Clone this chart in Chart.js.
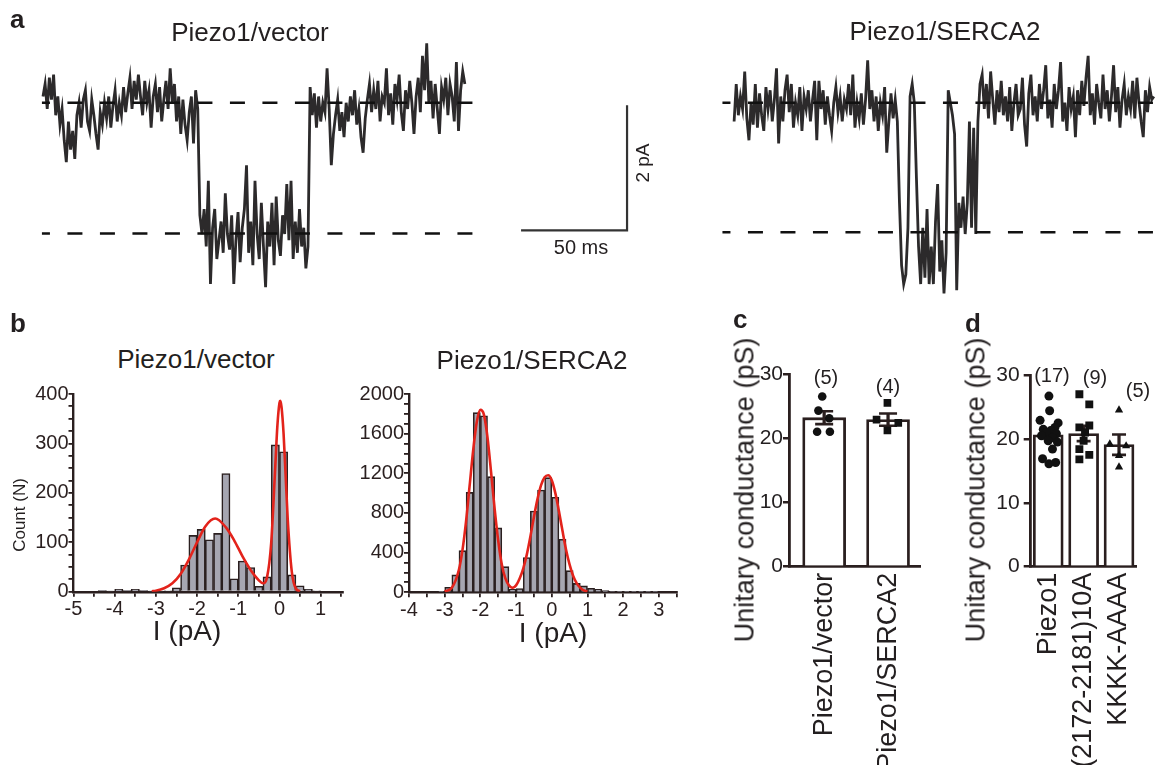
<!DOCTYPE html>
<html>
<head>
<meta charset="utf-8">
<title>Piezo1 single-channel recordings</title>
<script src="https://cdn.jsdelivr.net/npm/chart.js@4.4.1/dist/chart.umd.min.js"></script>
<style>
  body { margin: 0; background: #fff; }
  #fig { position: relative; width: 1159px; height: 765px; overflow: hidden;
         font-family: 'Liberation Sans', Arial, Helvetica, sans-serif; color: #231f20; }
  canvas { position: absolute; }
  .t { position: absolute; white-space: nowrap; line-height: 1; transform: translate(-50%, -50%); }
  .rot { transform: translate(-50%, -50%) rotate(-90deg); }
  .lt { position: absolute; font-weight: bold; font-size: 26px; line-height: 1; }
</style>
</head>
<body>
<div id="fig">
  <canvas id="cvA" width="1159" height="310" style="left:0;top:0"></canvas>
  <canvas id="cvB1" width="350" height="260" style="left:0;top:380px"></canvas>
  <canvas id="cvB2" width="340" height="260" style="left:345px;top:380px"></canvas>
  <canvas id="cvC" width="220" height="435" style="left:720px;top:330px"></canvas>
  <canvas id="cvD" width="209" height="435" style="left:950px;top:330px"></canvas>

  <div class="lt" style="left:10px;top:6px">a</div>
  <div class="lt" style="left:10px;top:310px">b</div>
  <div class="lt" style="left:733px;top:306px">c</div>
  <div class="lt" style="left:965px;top:310px">d</div>

  <div class="t" style="left:250px;top:32px;font-size:26px">Piezo1/vector</div>
  <div class="t" style="left:945px;top:31px;font-size:26px">Piezo1/SERCA2</div>
  <div class="t rot" style="left:642px;top:163px;font-size:19px">2 pA</div>
  <div class="t" style="left:581px;top:247px;font-size:20px">50 ms</div>

  <div class="t" style="left:196px;top:359px;font-size:26px">Piezo1/vector</div>
  <div class="t" style="left:532px;top:360px;font-size:26px">Piezo1/SERCA2</div>
  <div class="t rot" style="left:19px;top:515px;font-size:17px">Count (N)</div>
  <div class="t" style="left:187px;top:631px;font-size:28px">I (pA)</div>
  <div class="t" style="left:553px;top:633px;font-size:28px">I (pA)</div>

  <div class="t rot" style="left:745px;top:490px;font-size:27px">Unitary conductance (pS)</div>
  <div class="t rot" style="left:976px;top:490px;font-size:27px">Unitary conductance (pS)</div>
  <div class="t" style="left:826px;top:377px;font-size:20px">(5)</div>
  <div class="t" style="left:888px;top:386px;font-size:20px">(4)</div>
  <div class="t" style="left:1052px;top:375px;font-size:20px">(17)</div>
  <div class="t" style="left:1095px;top:377px;font-size:20px">(9)</div>
  <div class="t" style="left:1138px;top:390px;font-size:20px">(5)</div>
</div>

<script>
// ---- a: current traces (pA), one sample per ms ----
const sampleMs = 1;
const vectorStart = 0;
const vectorTrace = [
  0.1, 0.3, -0.1, 0.4, 0.05, 0.45, -0.2, 0.1, -0.35, -0.1,
  -0.6, -0.95, -0.3, -0.75, -0.45, -0.9, -0.2, 0.0, -0.4, 0.05,
  0.2, -0.3, -0.45, 0.05, -0.2, -0.5, -0.75, -0.15, -0.35, 0.0,
  -0.25, 0.1, -0.4, -0.05, 0.2, -0.3, 0.0, -0.2, 0.25, -0.15,
  0.15, 0.4, -0.1, 0.35, 0.05, 0.45, 0.1, -0.2, 0.35, 0.0,
  0.2, -0.4, 0.1, 0.3, -0.15, 0.25, -0.3, 0.05, 0.35, -0.1,
  0.55, 0.0, 0.3, -0.3, 0.1, -0.5, 0.05, -0.35, -0.6, -0.15,
  0.1, -0.65, 0.2, -0.1,
  -1.8,
  -2.1, -1.7, -2.3, -1.25, -2.9, -2.0, -1.7, -2.5, -2.2, -1.9,
  -2.4, -1.45, -2.1, -2.35, -1.8, -2.9, -2.2, -1.75, -2.55, -2.0,
  -1.7, -1.0, -2.4, -1.9, -2.6, -1.25, -2.1, -2.5, -1.6, -2.3,
  -2.95, -1.9, -2.3, -1.6, -2.6, -1.5, -2.2, -2.45, -1.8, -2.1,
  -1.3, -2.2, -1.25, -2.5, -1.9, -2.4, -1.7, -2.3, -2.0, -2.65,
  -2.3,
  0.25, -0.2, 0.15, -0.4, 0.1, -0.3, 0.0, -0.15, 0.55, -0.1,
  -1.0, -0.5, -0.2, 0.05, -0.45, -0.15, -0.55, 0.0, -0.3, 0.1,
  -0.2, 0.2, -0.35, -0.1, -0.55, -0.8, -0.25, 0.05, 0.3, -0.15,
  0.2, -0.1, 0.35, -0.3, 0.1, 0.0, 0.55, -0.2, 0.15, -0.35,
  0.3, 0.05, 0.45, -0.15, -0.45, 0.2, -0.1, 0.35, 0.0, -0.5,
  0.1, 0.4, -0.15, 0.75, 0.2, 0.95, 0.0, 0.35, -0.25, 0.3,
  -0.1, -0.5, 0.25, 0.05, 0.4, -0.2, 0.3, 0.1, -0.3, 0.65,
  -0.45, 0.2, 0.5, 0.3
];
const sercaStart = 326;
const sercaTrace = [
  -0.3, 0.3, -0.2, 0.1, -0.1, 0.5, -0.25, -0.6, 0.0, -0.35,
  0.3, -0.4, 0.15, -0.2, -0.45, 0.25, -0.1, 0.2, -0.3, 0.05,
  0.55, -0.65, 0.1, -0.3, 0.2, 0.45, -0.15, 0.3, -0.4, 0.0,
  -0.2, 0.25, -0.45, 0.1, -0.1, 0.2, -0.3, 0.05, 0.35, -0.6,
  0.35, -0.1, 0.2, -0.35, 0.1, -0.2, -0.45, 0.0, 0.25, -0.15,
  0.1, -0.3, 0.05, -0.1, 0.3, -0.2, 0.45, -0.4, 0.0, -0.25,
  0.15, -0.35, 0.05, 0.68, -0.1, 0.2, -0.3, 0.1, -0.45, 0.0,
  -0.2, 0.25, -0.8, -0.3, 0.15, -0.25, 0.05,
  -0.3, -1.6, -2.6, -2.9, -2.75, -2.0, 0.1, 0.3, 0.0, -1.2,
  -2.3, -2.9, -2.0, -2.8, -1.7, -2.9, -2.3, -2.9, -1.9, -1.3,
  -2.7, -2.2, -3.05, -2.4, 0.2, 0.0, -0.2, -0.5, -3.0, -1.6,
  -2.0, -1.5, -2.1, -1.6, -0.3, -2.0, -0.4, -2.1, -0.3, 0.3,
  0.45, -0.1, 0.3, -0.25, 0.5, 0.05, -0.35, 0.2, -0.15, 0.35,
  -0.2, 0.1, -0.3, 0.25, -0.45, 0.0, 0.3, -0.2, -0.1, 0.4,
  -0.35, -0.7, 0.15, 0.45, -0.2, 0.1, -0.3, 0.3, -0.1, 0.2,
  0.6, -0.25, 0.05, -0.4, 0.3, -0.1, 0.2, 0.65, -0.3, 0.0,
  -0.45, 0.25, -0.1, 0.1, -0.55, 0.2, -0.2, 0.35, -0.05, 0.4,
  0.75, -0.2, 0.15, -0.35, 0.3, 0.0, -0.25, 0.45, -0.1, 0.2,
  -0.3, 0.1, 0.6, -0.15, 0.25, -0.4, 0.05, 0.3, -0.2, 0.1,
  -0.1, 0.35, -0.25, 0.4, 0.0, -0.3, -0.55, 0.2, -0.15, 0.25,
  0.05, 0.1
];
const closedLevel = [0, 0];          // vector, SERCA2
const openLevel = [-2.09, -2.07];
const scaleBarMs = 50;
const scaleBarPA = 2;

// ---- b: all-point histograms ----
const vecBins = [-4.5, -4.3, -4.1, -3.9, -3.7, -3.5, -3.3, -3.1, -2.9, -2.7,
  -2.5, -2.3, -2.1, -1.9, -1.7, -1.5, -1.3, -1.1, -0.9, -0.7,
  -0.5, -0.3, -0.1, 0.1, 0.3, 0.5, 0.7, 0.9];
const vecCounts = [0, 3, 1, 5, 3, 5, 3, 1, 1, 2,
  8, 54, 114, 126, 105, 118, 239, 26, 62, 49,
  11, 30, 297, 283, 34, 12, 5, 2];
const vecFitX = [-3.1, -3.0, -2.8, -2.6, -2.4, -2.2, -2.0, -1.8, -1.56, -1.3, -1.1, -0.9, -0.7, -0.5,
  -0.4, -0.3, -0.2, -0.1, -0.05, 0.0, 0.02, 0.05, 0.1, 0.15, 0.2, 0.3, 0.4, 0.5];
const vecFitY = [1, 2, 7, 17, 36, 65, 100, 132, 148, 130, 104, 72, 44, 23,
  17, 30, 99, 256, 336, 382, 386, 374, 320, 235, 148, 40, 6, 1];
const vecXTicks = [-5, -4, -3, -2, -1, 0, 1];
const vecYTicks = [0, 100, 200, 300, 400];

const sercaBins = [-3.1, -2.9, -2.7, -2.5, -2.3, -2.1, -1.9, -1.7, -1.5, -1.3,
  -1.1, -0.9, -0.7, -0.5, -0.3, -0.1, 0.1, 0.3, 0.5, 0.7,
  0.9, 1.1, 1.3, 1.5, 1.7, 1.9, 2.1, 2.3, 2.5, 2.7, 2.9];
const sercaCounts = [5, 50, 175, 420, 1008, 1812, 1781, 1166, 649, 259,
  30, 37, 350, 820, 1032, 1156, 958, 534, 218, 90,
  64, 40, 30, 17, 10, 6, 4, 3, 2, 1, 1];
const sercaFitX = [-3.0, -2.8, -2.6, -2.5, -2.4, -2.3, -2.2, -2.1, -2.0, -1.9, -1.8, -1.7, -1.6,
  -1.5, -1.4, -1.3, -1.2, -1.1, -1.0, -0.9, -0.8, -0.7, -0.6, -0.5, -0.4, -0.3, -0.2, -0.1,
  0.0, 0.1, 0.2, 0.3, 0.4, 0.5, 0.6, 0.7, 0.8, 0.9, 1.0];
const sercaFitY = [8, 45, 230, 430, 720, 1080, 1440, 1720, 1840, 1790, 1560, 1210, 840,
  520, 280, 140, 70, 45, 70, 140, 240, 380, 560, 760, 940, 1080, 1160, 1180,
  1130, 1000, 820, 620, 430, 280, 165, 90, 45, 20, 8];
const sercaXTicks = [-4, -3, -2, -1, 0, 1, 2, 3];
const sercaYTicks = [0, 400, 800, 1200, 1600, 2000];

// ---- c, d: unitary conductance (pS) ----
const condTicks = [0, 10, 20, 30];
const cLabels = ['Piezo1/vector', 'Piezo1/SERCA2'];
const cMeans = [23.2, 22.9];
const cSem = [1.0, 0.95];
const cVector = [26.5, 24.3, 23.1, 21.0, 21.0];
const cSerca = [25.5, 22.9, 22.4, 21.2];

const dLabels = ['Piezo1', '(2172-2181)10A', 'KKKK-AAAA'];
const dMeans = [20.65, 20.85, 19.1];
const dSem = [0.55, 1.2, 1.6];
const dPiezo1 = [26.7, 24.4, 22.9, 22.5, 21.8, 21.5, 21.3, 21.0, 20.8, 20.5, 20.2, 19.7, 19.5, 18.4, 16.9, 16.3, 16.1];
const d10A = [27.0, 25.4, 22.1, 21.8, 21.0, 19.7, 18.4, 17.5, 16.8];
const dKKKK = [24.5, 19.2, 18.9, 17.4, 15.6];

// horizontal scatter of the dots, in category widths
const jitter = {
  cVector: [-0.03, -0.09, 0.08, -0.11, 0.09],
  cSerca: [-0.01, -0.18, 0.16, -0.01],
  dPiezo1: [0.02, 0.04, -0.23, 0.28, 0.19, -0.14, 0.07, -0.05, 0.23, -0.19, 0.12, 0, 0.26, 0.12, -0.16, 0.21, 0.02],
  d10A: [-0.12, 0.16, 0.16, -0.12, 0.04, 0, -0.12, 0.16, -0.12],
  dKKKK: [0, -0.26, 0.2, 0, 0]
};

const ink = '#2a1f1f';
const traceInk = '#2c2a2b';
const fitRed = '#e3231b';
const barFill = '#a6a6b1';

Chart.defaults.font.family = "'Liberation Sans', Arial, Helvetica, sans-serif";
Chart.defaults.color = '#231f20';
Chart.defaults.animation = false;
Chart.defaults.responsive = false;
Chart.defaults.plugins.legend.display = false;
Chart.defaults.plugins.tooltip.enabled = false;

function traceXY(t0, values) {
  return values.map((v, i) => ({ x: t0 + i * sampleMs, y: v }));
}

function seg(x0, x1, y) {
  return [{ x: x0, y: y }, { x: x1, y: y }];
}

function dashed(data) {
  return { data: data, borderColor: '#111', borderWidth: 2.5, borderDash: [15, 17.5], borderDashOffset: 7, pointRadius: 0 };
}

// ---------- panel a ----------
const vecEnd = vectorStart + vectorTrace.length * sampleMs;
const sercaEnd = sercaStart + sercaTrace.length * sampleMs;
const barCorner = { x: 275.5, y: openLevel[0] + 0.05 };

new Chart(document.getElementById('cvA'), {
  type: 'line',
  data: {
    datasets: [
      dashed(seg(vectorStart - 0.5, vecEnd + 3.5, closedLevel[0])),
      dashed(seg(vectorStart - 0.5, vecEnd + 3.5, openLevel[0])),
      dashed(seg(sercaStart - 5.5, sercaEnd - 0.5, closedLevel[1])),
      dashed(seg(sercaStart - 5.5, sercaEnd - 0.5, openLevel[1])),
      { data: traceXY(vectorStart, vectorTrace), borderColor: traceInk, borderWidth: 2.8, pointRadius: 0 },
      { data: traceXY(sercaStart, sercaTrace), borderColor: traceInk, borderWidth: 2.8, pointRadius: 0 },
      { data: [
          { x: barCorner.x - scaleBarMs, y: barCorner.y },
          { x: barCorner.x, y: barCorner.y },
          { x: barCorner.x, y: barCorner.y + scaleBarPA }
        ], borderColor: '#333', borderWidth: 2.2, pointRadius: 0 }
    ]
  },
  options: {
    layout: { padding: 0 },
    elements: { line: { tension: 0, borderJoinStyle: 'miter' } },
    scales: {
      x: { type: 'linear', display: false, min: -20.28, max: 526.42 },
      y: { type: 'linear', display: false, min: -3.315, max: 1.643 }
    }
  }
});

// ---------- panel b ----------
function withMinor(major, step, max) {
  const out = [];
  for (let v = major[0]; v <= max + 1e-9; v += step) out.push(Math.round(v * 1000) / 1000);
  return out;
}

function histogram(id, h) {
  const xAll = withMinor(h.xTicks, h.xMinor, h.xMax);
  const yAll = withMinor(h.yTicks, h.yMinor, h.yMax);
  return new Chart(document.getElementById(id), {
    type: 'bar',
    data: {
      datasets: [
        { type: 'line', data: h.fitX.map((x, i) => ({ x: x, y: h.fitY[i] })), borderColor: fitRed,
          borderWidth: 2.6, pointRadius: 0, cubicInterpolationMode: 'monotone', order: 0 },
        { type: 'bar', data: h.bins.map((x, i) => ({ x: x, y: h.counts[i] })), backgroundColor: barFill,
          borderColor: ink, borderWidth: 1.6, barPercentage: 1, categoryPercentage: 1, order: 1 }
      ]
    },
    options: {
      layout: { padding: h.padding },
      scales: {
        x: {
          type: 'linear', min: h.xMin, max: h.xMax, offset: false,
          afterBuildTicks: a => { a.ticks = xAll.map(v => ({ value: v })); },
          afterFit: a => { a.height = h.xAxisH; },
          grid: { offset: false, drawOnChartArea: false, drawTicks: true, tickLength: 5, color: ink, lineWidth: 1.8 },
          border: { color: ink, width: 2.4 },
          ticks: { color: ink, font: { size: 20 }, padding: 1, maxRotation: 0, autoSkip: false,
                   callback: v => h.xTicks.includes(v) ? String(v) : '' }
        },
        y: {
          min: 0, max: h.yMax,
          afterBuildTicks: a => { a.ticks = yAll.map(v => ({ value: v })); },
          afterFit: a => { a.width = h.yAxisW; },
          grid: { drawOnChartArea: false, drawTicks: true, tickLength: 5, color: ink, lineWidth: 1.8 },
          border: { color: ink, width: 2.4 },
          ticks: { color: ink, font: { size: 20 }, padding: 0, autoSkip: false,
                   callback: v => h.yTicks.includes(v) ? String(v) : '' }
        }
      }
    }
  });
}

histogram('cvB1', {
  bins: vecBins, counts: vecCounts, fitX: vecFitX, fitY: vecFitY,
  xTicks: vecXTicks, xMinor: 0.5, xMin: -5, xMax: 1.55,
  yTicks: vecYTicks, yMinor: 25, yMax: 400,
  yAxisW: 73.5, xAxisH: 48.3, padding: { top: 14, right: 6.7, left: 0, bottom: 0 }
});

histogram('cvB2', {
  bins: sercaBins, counts: sercaCounts, fitX: sercaFitX, fitY: sercaFitY,
  xTicks: sercaXTicks, xMinor: 0.5, xMin: -4, xMax: 3.5,
  yTicks: sercaYTicks, yMinor: 100, yMax: 2000,
  yAxisW: 64, xAxisH: 47.7, padding: { top: 14, right: 8.3, left: 0, bottom: 0 }
});

// ---------- panels c, d ----------
function dotBars(id, p) {
  const datasets = [
    { type: 'bar', data: p.means.map((y, i) => ({ x: i, y: y })), barThickness: p.barW, grouped: false,
      backgroundColor: '#fff', borderColor: ink, borderWidth: 2.8, order: 4 },
    { type: 'bar', data: p.means.map((m, i) => ({ x: i, y: [m - p.sem[i], m + p.sem[i]] })), barThickness: 2.6,
      grouped: false, backgroundColor: ink, borderWidth: 0, order: 3 },
    { type: 'scatter', data: p.means.flatMap((m, i) => [{ x: i, y: m - p.sem[i] }, { x: i, y: m + p.sem[i] }]),
      pointStyle: 'line', pointRadius: p.capR, borderColor: ink, borderWidth: 2.6, order: 2 }
  ];
  p.groups.forEach((g, i) => {
    datasets.push({
      type: 'scatter', data: g.values.map((y, k) => ({ x: i + g.jitter[k], y: y })),
      pointStyle: g.style, pointRadius: g.r, backgroundColor: '#111', borderColor: '#111', borderWidth: 0, order: 1
    });
  });
  return new Chart(document.getElementById(id), {
    type: 'bar',
    data: { datasets: datasets },
    options: {
      layout: { padding: p.padding },
      scales: {
        x: {
          type: 'linear', min: p.xMin, max: p.xMax, offset: false,
          afterBuildTicks: a => { a.ticks = p.labels.map((l, i) => ({ value: i })); },
          afterFit: a => { a.height = p.xAxisH; },
          grid: { display: false, drawTicks: false, offset: false },
          border: { color: ink, width: 2.8 },
          ticks: { color: '#231f20', font: { size: 27 }, padding: 6, minRotation: 90, maxRotation: 90,
                   autoSkip: false, callback: v => p.labels[v] }
        },
        y: {
          min: 0, max: 30,
          afterBuildTicks: a => { a.ticks = condTicks.map(v => ({ value: v })); },
          afterFit: a => { a.width = p.yAxisW; },
          grid: { drawOnChartArea: false, drawTicks: true, tickLength: p.tickLen, color: ink, lineWidth: 2.5 },
          border: { color: ink, width: 2.8 },
          ticks: { color: '#231f20', font: { size: 21 }, padding: p.tickPad }
        }
      }
    }
  });
}

dotBars('cvC', {
  labels: cLabels, means: cMeans, sem: cSem, barW: 43, capR: 9,
  groups: [
    { values: cVector, jitter: jitter.cVector, style: 'circle', r: 4.3 },
    { values: cSerca, jitter: jitter.cSerca, style: 'rect', r: 5.4 }
  ],
  xMin: -0.55, xMax: 1.5, yAxisW: 69, xAxisH: 198.3, tickLen: 6, tickPad: 0,
  padding: { top: 44, right: 20, left: 0, bottom: 0 }
});

dotBars('cvD', {
  labels: dLabels, means: dMeans, sem: dSem, barW: 30, capR: 7,
  groups: [
    { values: dPiezo1, jitter: jitter.dPiezo1, style: 'circle', r: 4.5 },
    { values: d10A, jitter: jitter.d10A, style: 'rect', r: 5.6 },
    { values: dKKKK, jitter: jitter.dKKKK, style: 'triangle', r: 4.8 }
  ],
  xMin: -0.495, xMax: 2.49, yAxisW: 80.7, xAxisH: 198.3, tickLen: 7, tickPad: 4,
  padding: { top: 45, right: 0, left: 0, bottom: 0 }
});
</script>
</body>
</html>
